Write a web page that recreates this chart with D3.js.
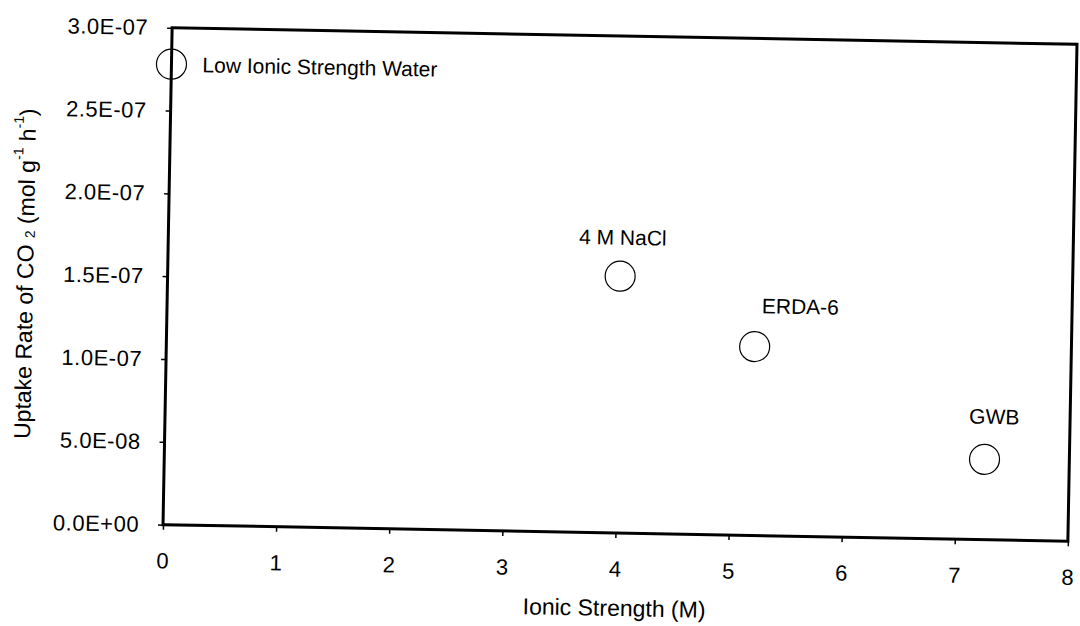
<!DOCTYPE html>
<html>
<head>
<meta charset="utf-8">
<script src="https://cdn.jsdelivr.net/npm/d3@7"></script>
<style>
  html, body { margin: 0; padding: 0; background: #fff; }
  svg { display: block; }
  text { font-family: "Liberation Sans", Arial, Helvetica, sans-serif; fill: #000; }
</style>
</head>
<body>
<svg id="chart" width="1080" height="626"></svg>
<script>
// Measured CO2 uptake rates against brine ionic strength
const sampleNames = ["Low Ionic Strength Water", "4 M NaCl", "ERDA-6", "GWB"];
const ionicStrength = [0, 4.0, 5.2, 7.25];
const uptakeRate = [2.78e-7, 1.55e-7, 1.14e-7, 4.85e-8];

const xTicks = [0, 1, 2, 3, 4, 5, 6, 7, 8];
const yTicks = [0, 5e-8, 1e-7, 1.5e-7, 2e-7, 2.5e-7, 3e-7];

// Where each sample's label sits relative to its marker
const labelPlacement = [
  { anchor: "start",  dx: 31, dy: 0 },
  { anchor: "middle", dx: 2,  dy: -39 },
  { anchor: "middle", dx: 45, dy: -41 },
  { anchor: "middle", dx: 9,  dy: -43 }
];

const W = 1080, H = 626;
const plot = { left: 167.5, top: 36, width: 905, height: 497 };

const svg = d3.select("#chart");
svg.append("rect").attr("width", W).attr("height", H).attr("fill", "#fff");

// whole figure sits at a slight tilt
const root = svg.append("g")
  .attr("transform", `rotate(1.05, ${plot.left + plot.width / 2}, ${plot.top + plot.height / 2})`);

const x = d3.scaleLinear().domain([0, 8]).range([0, plot.width]);
const y = d3.scaleLinear().domain([0, 3e-7]).range([plot.height, 0]);

const sci = v => {
  const [m, e] = v.toExponential(1).split("e");
  const sign = e[0] === "-" ? "-" : "+";
  const digits = e.replace(/[+-]/, "").padStart(2, "0");
  return `${m}E${sign}${digits}`;
};

const g = root.append("g").attr("transform", `translate(${plot.left},${plot.top})`);

// axes
const yAxis = g.append("g")
  .call(d3.axisLeft(y).tickValues(yTicks).tickFormat(sci).tickSize(5).tickSizeOuter(0).tickPadding(19));
const xAxis = g.append("g")
  .attr("transform", `translate(0,${plot.height})`)
  .call(d3.axisBottom(x).tickValues(xTicks).tickFormat(d3.format("d")).tickSize(5).tickSizeOuter(0).tickPadding(23));

[yAxis, xAxis].forEach(a => {
  a.select(".domain").remove();
  a.selectAll(".tick line").attr("stroke", "#000").attr("stroke-width", 1.5);
  a.selectAll(".tick text")
    .attr("fill", "#000")
    .style("font-size", "22px")
    .style("letter-spacing", "0.5px");
});

// plot frame
g.append("rect")
  .attr("x", 0).attr("y", 0)
  .attr("width", plot.width).attr("height", plot.height)
  .attr("fill", "none").attr("stroke", "#000").attr("stroke-width", 3);

// markers
const pts = sampleNames.map((name, i) => ({ name, xv: ionicStrength[i], yv: uptakeRate[i], p: labelPlacement[i] }));

g.selectAll("circle.pt").data(pts).join("circle")
  .attr("class", "pt")
  .attr("cx", d => x(d.xv))
  .attr("cy", d => y(d.yv))
  .attr("r", 15)
  .attr("fill", "none")
  .attr("stroke", "#000")
  .attr("stroke-width", 1.2);

g.selectAll("text.lbl").data(pts).join("text")
  .attr("class", "lbl")
  .attr("x", d => x(d.xv) + d.p.dx)
  .attr("y", d => y(d.yv) + d.p.dy)
  .attr("text-anchor", d => d.p.anchor)
  .attr("dominant-baseline", "central")
  .style("font-size", "21px")
  .text(d => d.name);

// axis titles
g.append("text")
  .attr("x", plot.width / 2)
  .attr("y", 608 - plot.top)
  .attr("text-anchor", "middle")
  .attr("dominant-baseline", "central")
  .style("font-size", "23px")
  .text("Ionic Strength (M)");

const yTitle = g.append("text")
  .attr("transform", `translate(${25 - plot.left},${plot.height / 2}) rotate(-90)`)
  .attr("text-anchor", "middle")
  .attr("dominant-baseline", "central")
  .style("font-size", "23px");
yTitle.append("tspan").text("Uptake Rate of CO ");
yTitle.append("tspan").attr("dy", 4).style("font-size", "14px").text("2");
yTitle.append("tspan").attr("dy", -4).text("  (mol g");
yTitle.append("tspan").attr("dy", -9).style("font-size", "14px").text("-1");
yTitle.append("tspan").attr("dy", 9).text(" h");
yTitle.append("tspan").attr("dy", -9).style("font-size", "14px").text("-1");
yTitle.append("tspan").attr("dy", 9).text(")");
</script>
</body>
</html>
